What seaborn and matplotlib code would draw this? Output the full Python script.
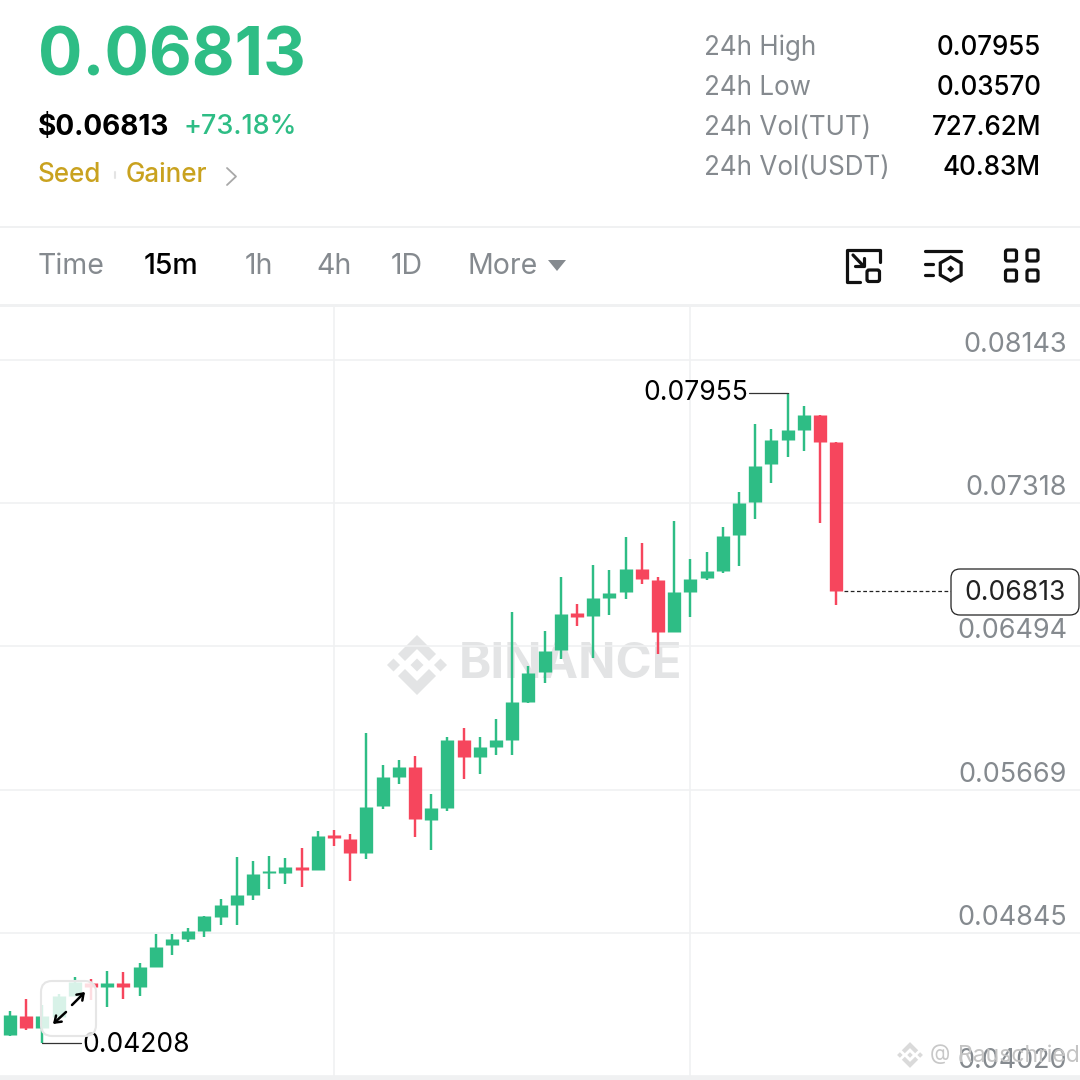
import numpy as np
import pandas as pd
import seaborn as sns
import matplotlib
matplotlib.use("Agg")
import matplotlib.pyplot as plt
from matplotlib.patches import Polygon, FancyBboxPatch, Rectangle, RegularPolygon

# ---- data ----
opens = [.04333,.04256,.04367,.04298,.04361,.04482,.04556,.04532,.04556,.04534,.04649,.04774,.04807,.04857,.04937,.05006,.05064,.05187,.05191,.05225,.05206,.05406,.05383,.05302,.05575,.05743,.05801,.05494,.05562,.05953,.05855,.05916,.05955,.06175,.06346,.06473,.06684,.06669,.06774,.06809,.06941,.06874,.06575,.06809,.06886,.06930,.07134,.07324,.07542,.07684,.07742,.07828,.07669]
highs = [.04354,.04394,.04462,.04429,.04492,.04590,.04579,.04626,.04621,.04672,.04838,.04838,.04874,.04943,.05041,.05279,.05256,.05287,.05277,.05333,.05433,.05437,.05414,.05993,.05813,.05840,.05863,.05642,.05974,.06022,.05974,.06074,.06694,.06381,.06582,.06895,.06736,.06965,.06934,.07122,.07088,.06895,.07214,.06995,.07036,.07183,.07383,.07774,.07744,.07955,.07878,.07828,.07669]
lows = [.04250,.04250,.04285,.04208,.04354,.04482,.04458,.04417,.04463,.04481,.04649,.04718,.04792,.04819,.04888,.04888,.05033,.05097,.05127,.05110,.05206,.05344,.05145,.05268,.05556,.05701,.05398,.05321,.05548,.05732,.05759,.05870,.05867,.06166,.06285,.06420,.06610,.06425,.06675,.06769,.06853,.06450,.06575,.06665,.06876,.06918,.06957,.07229,.07436,.07586,.07621,.07203,.06732]
closes = [.04256,.04371,.04298,.04367,.04482,.04561,.04532,.04556,.04532,.04648,.04765,.04807,.04857,.04941,.05005,.05061,.05183,.05200,.05225,.05206,.05402,.05392,.05302,.05571,.05740,.05799,.05500,.05562,.05953,.05855,.05913,.05953,.06172,.06342,.06467,.06680,.06665,.06771,.06803,.06941,.06880,.06575,.06807,.06884,.06930,.07128,.07318,.07534,.07682,.07738,.07828,.07673,.06813]
first_index = -1

y_ticks = [.08143,.07318,.06494,.05669,.04845,.04020]
y_tick_labels = ["0.08143","0.07318","0.06494","0.05669","0.04845","0.04020"]
x_grid = [20, 42]
high_value, high_label, high_at = .07955, "0.07955", 48
low_value, low_label, low_at = .04208, "0.04208", 2
last_value, last_label = .06813, "0.06813"

stats_labels = ["24h High","24h Low","24h Vol(TUT)","24h Vol(USDT)"]
stats_values = ["0.07955","0.03570","727.62M","40.83M"]
tabs = ["Time","15m","1h","4h","1D","More"]
tab_x = [38,144,245,316,391,467]

GREEN, RED = "#2EBD85", "#F6465D"
GREY, GOLD = "#858A8F", "#C9A21F"
GRID = "#F0F1F2"
FONT = "Inter"
PX = 72/100

sns.set_theme(style="white")
plt.rcParams["font.family"] = [FONT, "DejaVu Sans"]

idx = np.arange(first_index, first_index+len(opens))
candles = pd.DataFrame(dict(i=idx, open=opens, high=highs, low=lows, close=closes))
candles["dir"] = np.where(candles.close >= candles.open, "up", "down")
wicks = candles.melt(id_vars=["i","dir"], value_vars=["high","low"], value_name="price")
bodies = candles.melt(id_vars=["i","dir"], value_vars=["open","close"], value_name="price")
palette = {"up":GREEN, "down":RED}

fig = plt.figure(figsize=(10.8,10.8), dpi=100, facecolor="white")

def px_axes(z):
    a = fig.add_axes([0,0,1,1], zorder=z)
    a.set_xlim(0,1080); a.set_ylim(1080,0); a.axis("off")
    return a
bg = px_axes(0)
ax = fig.add_axes([0,0,1,(1080-306)/1080], zorder=1)
ov = px_axes(2)

# ---- main chart ----
k = .04123/716
ax.patch.set_alpha(0)
ax.set_xlim(-10/16.2, 1070/16.2)
ax.set_ylim(.0402-4*k, .0402+770*k)
for s in ax.spines.values(): s.set_visible(False)
ax.set_xticks(x_grid); ax.set_yticks(y_ticks)
ax.tick_params(length=0, labelleft=False, labelbottom=False)
ax.grid(True, color=GRID, lw=1.2)
ax.set_axisbelow(True)
sns.lineplot(data=wicks, x="i", y="price", units="i", hue="dir", palette=palette, estimator=None,
             errorbar=None, legend=False, lw=1.75, solid_capstyle="butt", ax=ax)
sns.lineplot(data=bodies, x="i", y="price", units="i", hue="dir", palette=palette, estimator=None,
             errorbar=None, legend=False, lw=9.6, solid_capstyle="butt", ax=ax)
ax.set_xlabel(""); ax.set_ylabel("")

for v, lab in zip(y_ticks, y_tick_labels):
    ax.annotate(lab, xy=(1,v), xycoords=("axes fraction","data"), xytext=(-13*PX,15*PX),
                textcoords="offset points", ha="right", va="center", color=GREY, fontsize=27*PX)
ax.plot([high_at, (749-10)/16.2],[high_value]*2, color="#333333", lw=.9)
ax.plot([low_at, (81-10)/16.2],[low_value]*2, color="#333333", lw=.9)
ax.annotate(high_label, xy=((748-10)/16.2,high_value), ha="right", va="center", fontsize=26.5*PX, color="black")
ax.annotate(low_label, xy=((82-10)/16.2,low_value), xytext=(0,-2*PX), textcoords="offset points",
            ha="left", va="center", fontsize=26.5*PX, color="black")
ax.plot([idx[-1]+.5, (951-10)/16.2],[last_value]*2, color="#222222", lw=.9, ls=(0,(3,2)))

# watermark behind the candles
bg.text(459,665,"BINANCE",ha="left",va="center",fontsize=49*PX,fontweight="bold",color="#E3E4E5")
def logo(a, cx, cy, s, c, z=1):
    for dx,dy in [(0,0),(-23.5,0),(23.5,0)]:
        a.add_patch(Polygon([(cx+dx*s,cy+(dy-6.5)*s),(cx+(dx+6.5)*s,cy+dy*s),(cx+dx*s,cy+(dy+6.5)*s),(cx+(dx-6.5)*s,cy+dy*s)],color=c,lw=0,zorder=z))
    for sg in (1,-1):
        pts=[(0,-30),(19,-11),(12,-4),(0,-16),(-12,-4),(-19,-11)]
        a.add_patch(Polygon([(cx+x*s,cy+sg*y*s) for x,y in pts],color=c,lw=0,zorder=z))
logo(bg,417,665,1,"#E3E4E5")

# ---- header ----
ov.text(38,58,"0.06813",color=GREEN,fontsize=66*PX,fontweight="bold",ha="left",va="center")
ov.text(38,127,"$0.06813",color="black",fontsize=28*PX,fontweight="bold",ha="left",va="center")
ov.text(183,127,"+73.18%",color=GREEN,fontsize=27*PX,fontweight="medium",ha="left",va="center")
ov.text(38,175,"Seed",color=GOLD,fontsize=26*PX,fontweight="medium",ha="left",va="center")
ov.plot([115,115],[172,178],color="#E4E4E4",lw=1.5)
ov.text(126,175,"Gainer",color=GOLD,fontsize=26*PX,fontweight="medium",ha="left",va="center")
ov.plot([227,236,227],[168,176.5,185],color="#A8A8A8",lw=1.3)
for n,(l,v) in enumerate(zip(stats_labels,stats_values)):
    ov.text(704,48+40*n,l,color=GREY,fontsize=26*PX,ha="left",va="center")
    ov.text(1041,48+40*n,v,color="black",fontsize=26*PX,fontweight="medium",ha="right",va="center")
ov.add_patch(Rectangle((0,226),1080,1.5,color=GRID,lw=0))
ov.add_patch(Rectangle((0,304),1080,3,color=GRID,lw=0))
ov.add_patch(Rectangle((0,1076),1080,4,color=GRID,lw=0))
for t,x in zip(tabs,tab_x):
    ov.text(x,267,t,color="black" if t=="15m" else GREY,fontsize=28.5*PX,ha="left",va="center",
            fontweight="medium" if t=="15m" else "normal")
ov.add_patch(Polygon([(548,260),(566,260),(557,271)],color=GREY,lw=0))

# ---- icons ----
lw_i = 2.3
ov.plot([880,880,847,847,860],[262,249.5,249.5,281.5,281.5],color="#111",lw=lw_i,solid_joinstyle="round",solid_capstyle="round")
ov.add_patch(FancyBboxPatch((867,270),12.5,11.5,boxstyle="round,pad=0,rounding_size=2",fc="none",ec="#111",lw=lw_i))
ov.plot([853,863],[255,265.5],color="#111",lw=lw_i)
ov.plot([863.5,863.5,855],[258,266,266],color="#111",lw=lw_i)
ov.plot([924.5,960.5],[250.5,250.5],color="#111",lw=lw_i)
ov.plot([924.5,933],[263.5,263.5],color="#111",lw=lw_i)
ov.plot([924.5,933],[274.5,274.5],color="#111",lw=lw_i)
ov.add_patch(RegularPolygon((950.7,269),6,radius=12,orientation=0,fc="none",ec="#111",lw=lw_i))
ov.add_patch(RegularPolygon((950.7,269),4,radius=3.5,fc="#111",ec="none"))
for x in (1005.5,1027):
    for y in (250,270):
        ov.add_patch(FancyBboxPatch((x,y),11,11,boxstyle="round,pad=0,rounding_size=2",fc="none",ec="#111",lw=lw_i))

# ---- price label ----
ov.add_patch(FancyBboxPatch((951,569),128,46,boxstyle="round,pad=0,rounding_size=9",fc="white",ec="#222",lw=.9,zorder=4))
ov.text(1015,593,last_label,color="#222",fontsize=26.5*PX,ha="center",va="center",zorder=5)

# ---- expand button ----
ov.add_patch(FancyBboxPatch((41,981),55,55,boxstyle="round,pad=0,rounding_size=11",fc=(1,1,1,.82),ec="#E6E6E6",lw=1.5,zorder=3))
for (x0,y0,x1,y1) in [(72,1005,85,992),(66,1012,53,1024)]:
    ov.annotate("",xy=(x1,y1),xytext=(x0,y0),arrowprops=dict(arrowstyle="->,head_width=.25,head_length=.35",color="black",lw=1.8,shrinkA=0,shrinkB=0),zorder=4)

# ---- bottom credit ----
logo(ov,910,1055,.43,"#DADADA",z=4)
ov.text(940,1054,"@",color="#C8C8C8",fontsize=21*PX,ha="center",va="center",zorder=4)
ov.text(958,1056,"Rauschried",color="#C4C4C4",fontsize=23*PX,ha="left",va="center",zorder=4)

fig.savefig("out.png",dpi=100)
